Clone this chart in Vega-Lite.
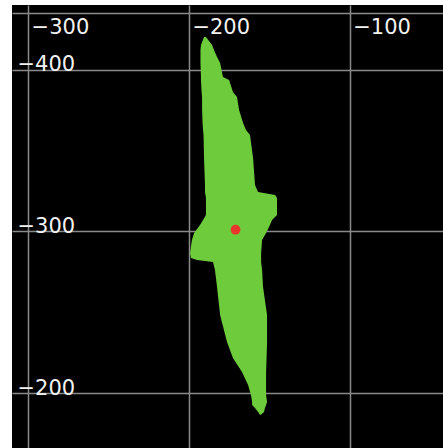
{
  "$schema": "https://vega.github.io/schema/vega-lite/v6.json",
  "width": 431,
  "height": 443,
  "autosize": {"type": "none"},
  "padding": {"left": 12, "top": 5, "right": 0, "bottom": 0},
  "background": "white",
  "config": {
    "view": {"fill": "black", "stroke": null},
    "axis": {
      "grid": true,
      "gridColor": "#8a8a8a",
      "gridWidth": 1.5,
      "gridOpacity": 1,
      "ticks": false,
      "labelColor": "#f2f2f2",
      "labelFont": "DejaVu Sans",
      "labelFontSize": 21,
      "labelOverlap": false,
      "labelFlush": false,
      "labelBound": false,
      "title": null
    }
  },
  "datasets": {
    "outline": [
      {"y": -420.2, "x1": -190.6, "x2": -189.4},
      {"y": -415.3, "x1": -192.5, "x2": -185.6},
      {"y": -412.2, "x1": -192.8, "x2": -184.4},
      {"y": -407.8, "x1": -192.8, "x2": -182.5},
      {"y": -404.1, "x1": -192.8, "x2": -180.6},
      {"y": -395.5, "x1": -192.5, "x2": -178.8},
      {"y": -393.6, "x1": -192.5, "x2": -175.0},
      {"y": -386.2, "x1": -192.1, "x2": -172.6},
      {"y": -383.1, "x1": -191.8, "x2": -170.1},
      {"y": -375.1, "x1": -191.8, "x2": -168.8},
      {"y": -367.0, "x1": -191.5, "x2": -166.3},
      {"y": -362.7, "x1": -191.2, "x2": -164.5},
      {"y": -359.6, "x1": -190.9, "x2": -162.0},
      {"y": -345.4, "x1": -190.6, "x2": -160.1},
      {"y": -328.7, "x1": -190.0, "x2": -158.9},
      {"y": -324.4, "x1": -190.0, "x2": -157.0},
      {"y": -322.5, "x1": -189.7, "x2": -146.4},
      {"y": -320.6, "x1": -189.4, "x2": -145.2},
      {"y": -310.1, "x1": -189.4, "x2": -145.2},
      {"y": -307.0, "x1": -191.2, "x2": -148.3},
      {"y": -304.0, "x1": -193.1, "x2": -149.6},
      {"y": -299.0, "x1": -196.8, "x2": -152.0},
      {"y": -294.7, "x1": -198.1, "x2": -154.5},
      {"y": -286.6, "x1": -199.3, "x2": -155.1},
      {"y": -283.5, "x1": -198.7, "x2": -155.1},
      {"y": -282.3, "x1": -195.0, "x2": -155.1},
      {"y": -281.1, "x1": -185.0, "x2": -155.1},
      {"y": -276.1, "x1": -183.8, "x2": -154.5},
      {"y": -265.6, "x1": -182.5, "x2": -153.9},
      {"y": -248.3, "x1": -180.6, "x2": -151.4},
      {"y": -231.6, "x1": -176.3, "x2": -151.4},
      {"y": -221.7, "x1": -172.6, "x2": -151.7},
      {"y": -213.0, "x1": -167.0, "x2": -152.0},
      {"y": -205.0, "x1": -163.2, "x2": -152.0},
      {"y": -198.8, "x1": -161.4, "x2": -152.0},
      {"y": -194.5, "x1": -160.7, "x2": -151.4},
      {"y": -192.6, "x1": -160.7, "x2": -152.0},
      {"y": -190.8, "x1": -158.9, "x2": -152.7},
      {"y": -188.3, "x1": -157.0, "x2": -153.3},
      {"y": -186.5, "x1": -155.8, "x2": -155.2}
    ],
    "centre": [
      {"x": -171, "y": -301}
    ]
  },
  "layer": [
    {
      "data": {"name": "outline"},
      "mark": {"type": "area", "orient": "horizontal", "color": "#6ecc3c", "interpolate": "linear"},
      "encoding": {
        "y": {
          "field": "y",
          "type": "quantitative",
          "scale": {"domain": [-440, -166], "reverse": true, "nice": false, "zero": false},
          "axis": {
            "orient": "left",
            "values": [-400, -300, -200],
            "format": "d",
            "domain": false,
            "labelAlign": "left",
            "labelBaseline": "alphabetic",
            "labelPadding": -5,
            "labelOffset": 1
          }
        },
        "x": {
          "field": "x1",
          "type": "quantitative",
          "scale": {"domain": [-310, -42], "nice": false, "zero": false},
          "axis": {
            "orient": "top",
            "values": [-300, -200, -100],
            "format": "d",
            "offset": -8,
            "domain": true,
            "domainColor": "#8a8a8a",
            "domainWidth": 1.5,
            "labelAlign": "left",
            "labelBaseline": "alphabetic",
            "labelPadding": -20,
            "labelOffset": 3
          }
        },
        "x2": {"field": "x2"}
      }
    },
    {
      "data": {"name": "centre"},
      "mark": {"type": "circle", "color": "#e8382c", "opacity": 1, "size": 95},
      "encoding": {
        "x": {"field": "x", "type": "quantitative"},
        "y": {"field": "y", "type": "quantitative"}
      }
    }
  ]
}
